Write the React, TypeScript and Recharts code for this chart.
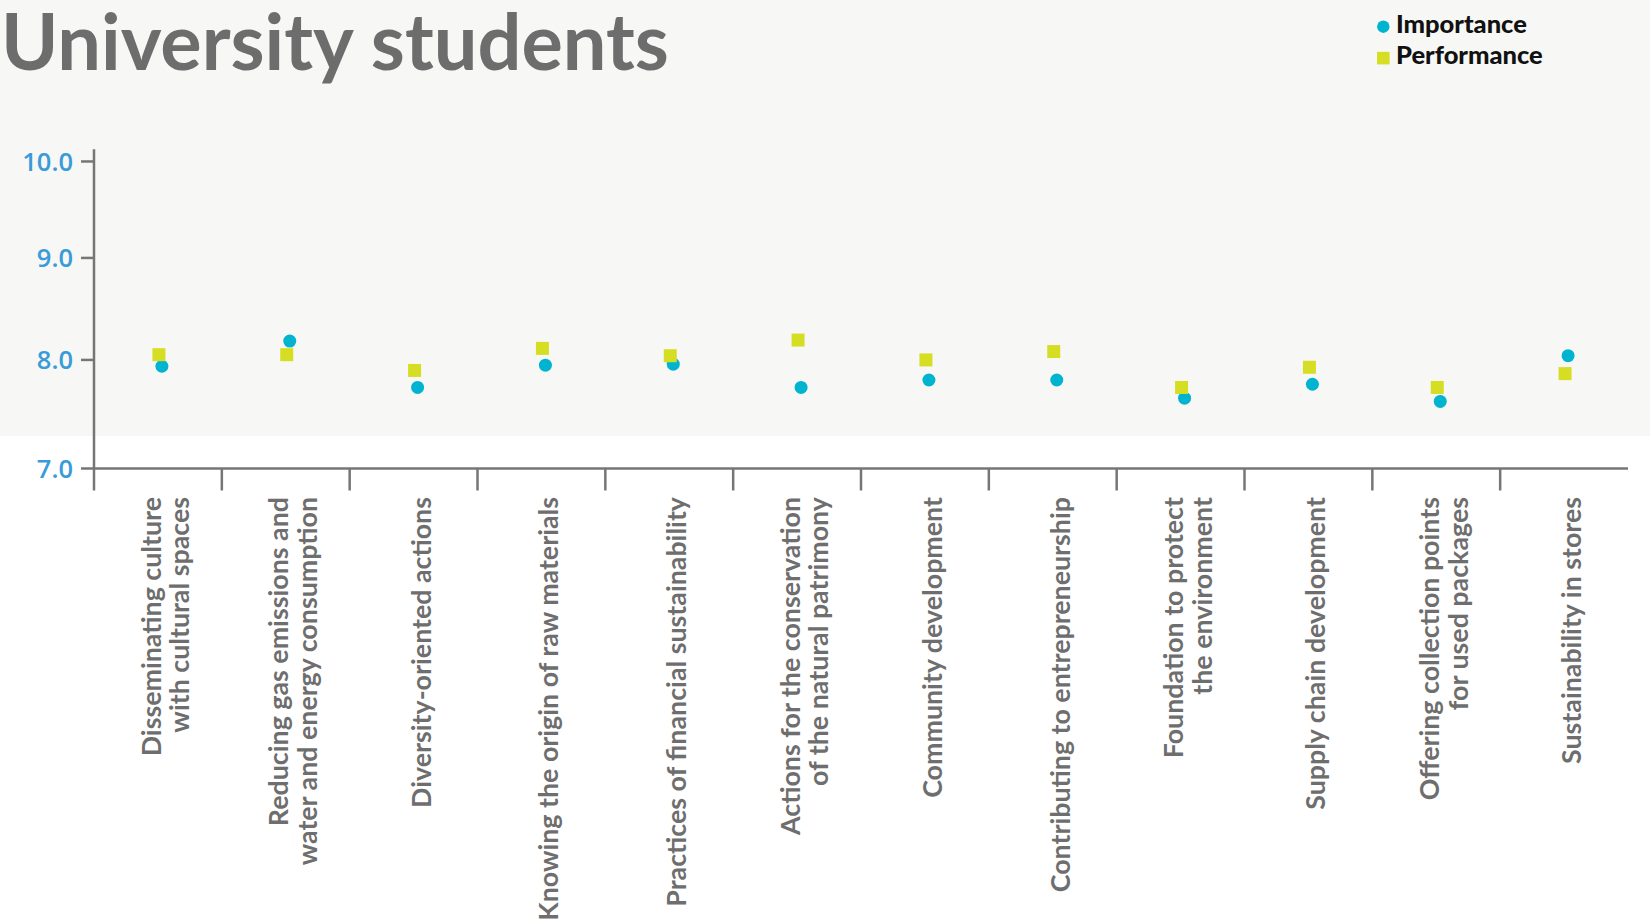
import React from 'react';
import { ComposedChart, Scatter, XAxis, YAxis, Legend } from 'recharts';

// ---- data ----
const categories: string[] = [
  'Disseminating culture\nwith cultural spaces',
  'Reducing gas emissions and\nwater and energy consumption',
  'Diversity-oriented actions',
  'Knowing the origin of raw materials',
  'Practices of financial sustainability',
  'Actions for the conservation\nof the natural patrimony',
  'Community development',
  'Contributing to entrepreneurship',
  'Foundation to protect\nthe environment',
  'Supply chain development',
  'Offering collection points\nfor used packages',
  'Sustainability in stores',
];
const importance: number[] = [7.94, 8.18, 7.74, 7.95, 7.96, 7.74, 7.81, 7.81, 7.64, 7.77, 7.61, 8.04];
const performance: number[] = [8.05, 8.05, 7.9, 8.11, 8.04, 8.19, 8.0, 8.08, 7.74, 7.93, 7.74, 7.87];
const yTicks: number[] = [7, 8, 9, 10];
const yDomain: [number, number] = [7, 10.13];
const seriesNames = { importance: 'Importance', performance: 'Performance' };
const titleText = 'University students';

// ---- styles ----
const W = 1650;
const H = 919;
const MARGIN = { top: 149.3, right: 22, bottom: 0, left: 9 };
const Y_AXIS_W = 85;
const X_AXIS_H = 450.5;
const PLOT_W = W - MARGIN.left - MARGIN.right - Y_AXIS_W;
const AXIS_COLOR = '#767676';
const LABEL_COLOR = '#6E6E6E';
const TICK_BLUE = '#3A9BD9';
const CIRCLE_COLOR = '#00B4D0';
const SQUARE_COLOR = '#D6DE23';
const BG_TOP = '#F7F7F5';

const data = categories.map((name, i) => ({
  name,
  importance: importance[i],
  performance: performance[i],
}));

const XTick = (props: any) => {
  const { x, y, payload } = props;
  const band = PLOT_W / categories.length;
  const lines = String(payload.value).split('\n');
  const n = lines.length;
  const bx = x - band / 2;
  return (
    <g>
      <line x1={bx} y1={y} x2={bx} y2={y + 22} stroke={AXIS_COLOR} strokeWidth={2.5} />
      <text
        transform={`translate(${x}, ${y + 28.5}) rotate(-90)`}
        textAnchor="end"
        fontFamily="Lato"
        fontWeight={700}
        fontSize={26.8}
        fill={LABEL_COLOR}
      >
        {lines.map((l, i) => (
          <tspan key={i} x={0} y={17 + (i - (n - 1) / 2) * 28.7}>
            {l}
          </tspan>
        ))}
      </text>
    </g>
  );
};

const CircleShape = (props: any) => {
  const { cx, cy } = props;
  if (cx == null || cy == null) return <g />;
  return <circle cx={cx + 4} cy={cy} r={6.5} fill={CIRCLE_COLOR} />;
};

const SquareShape = (props: any) => {
  const { cx, cy } = props;
  if (cx == null || cy == null) return <g />;
  return <rect x={cx + 1 - 6.5} y={cy - 6.5} width={13} height={13} fill={SQUARE_COLOR} />;
};

const renderLegend = (props: any) => {
  const payload = props.payload || [];
  return (
    <svg width={220} height={80} style={{ display: 'block' }}>
      {payload.map((p: any, i: number) => {
        const rowY = 10 + i * 31.5;
        const isSquare = p.type === 'square';
        return (
          <g key={i}>
            {isSquare ? (
              <rect x={0} y={rowY + 10.3} width={12.6} height={12.6} fill={p.color} />
            ) : (
              <circle cx={6.3} cy={rowY + 16.7} r={6.2} fill={p.color} />
            )}
            <text
              x={19}
              y={rowY + 22.5}
              fontFamily="Lato"
              fontWeight={900}
              fontSize={25.5}
              fill="#111111"
            >
              {p.value}
            </text>
          </g>
        );
      })}
    </svg>
  );
};

export default function App() {
  return (
    <div
      style={{
        position: 'absolute',
        left: 0,
        top: 0,
        width: W,
        height: H,
        background: '#FFFFFF',
        overflow: 'hidden',
      }}
    >
      <div style={{ position: 'absolute', left: 0, top: 0, width: W, height: 436, background: BG_TOP }} />
      <svg style={{ position: 'absolute', left: 0, top: 0 }} width={1000} height={130}>
        <text x={1} y={70} fontFamily="Lato" fontWeight={700} fontSize={77.5} fill="#6D6D6D">
          {titleText}
        </text>
      </svg>
      <div style={{ position: 'absolute', left: 0, top: 0 }}>
        <ComposedChart width={W} height={H} data={data} margin={MARGIN}>
          <XAxis
            dataKey="name"
            type="category"
            scale="band"
            interval={0}
            height={X_AXIS_H}
            tickLine={false}
            tickSize={0}
            tickMargin={0}
            axisLine={{ stroke: AXIS_COLOR, strokeWidth: 2.5 }}
            tick={<XTick />}
          />
          <YAxis
            type="number"
            scale="sqrt"
            domain={yDomain}
            allowDataOverflow
            ticks={yTicks}
            interval={0}
            width={Y_AXIS_W}
            tickSize={13}
            tickMargin={8}
            tickFormatter={(v: number) => v.toFixed(1)}
            axisLine={{ stroke: AXIS_COLOR, strokeWidth: 2.5 }}
            tickLine={{ stroke: AXIS_COLOR, strokeWidth: 2.5 }}
            tick={{ fill: TICK_BLUE, fontSize: 25.5, fontFamily: 'Open Sans', fontWeight: 600 }}
          />
          <Legend
            layout="vertical"
            align="center"
            verticalAlign="middle"
            content={renderLegend}
            wrapperStyle={{ position: 'absolute', left: 1377, top: 0, width: 220, height: 80 }}
          />
          <Scatter
            dataKey="importance"
            name={seriesNames.importance}
            fill={CIRCLE_COLOR}
            legendType="circle"
            shape={CircleShape}
            isAnimationActive={false}
          />
          <Scatter
            dataKey="performance"
            name={seriesNames.performance}
            fill={SQUARE_COLOR}
            legendType="square"
            shape={SquareShape}
            isAnimationActive={false}
          />
        </ComposedChart>
      </div>
    </div>
  );
}
